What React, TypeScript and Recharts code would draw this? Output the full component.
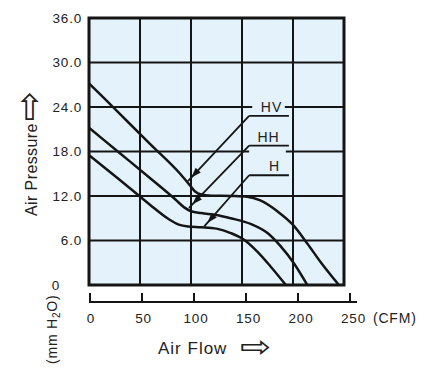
import { LineChart, Line, XAxis, YAxis, CartesianGrid, ReferenceLine, ReferenceArea, ReferenceDot } from 'recharts'

// axis ticks
const flowTicks = [0, 50, 100, 150, 200, 250]
const pressureTicks = [0, 6, 12, 18, 24, 30, 36]

// fan curves (CFM -> mm H2O)
const hvFlow = [0, 30, 60, 90, 98, 104, 110, 120, 140, 155, 168, 185, 200, 214, 227, 245]
const hvPressure = [27.2, 23.1, 19.0, 14.9, 13.6, 12.6, 12.2, 12.05, 12.0, 11.9, 11.4, 9.9, 8.1, 5.6, 3.1, 0]

const hhFlow = [0, 30, 60, 85, 93, 100, 110, 125, 139, 159, 175, 188, 201, 214]
const hhPressure = [21.2, 17.8, 14.4, 11.5, 10.5, 9.95, 9.7, 9.45, 9.0, 8.2, 7.0, 5.2, 2.9, 0]

const hFlow = [0, 30, 60, 78, 88, 97, 110, 125, 139, 152, 165, 178, 193]
const hPressure = [17.5, 14.2, 10.8, 8.9, 8.15, 7.9, 7.8, 7.6, 7.0, 6.1, 4.5, 2.5, 0]

// leader annotations (data units)
const seriesNames = ['HV', 'HH', 'H']
const leaderLevel = [22.8, 18.8, 14.8]
const tipFlow = [97, 98, 113]
const tipPressure = [14.0, 10.4, 7.9]
const nameFlow = [179, 176, 182]
const namePressure = [24.0, 19.9, 16.0]

const BG = '#e4f3fb'
const INK = '#151515'
const FONT = '"Liberation Sans", Arial, sans-serif'

const toPoints = (xs: number[], ys: number[]) => xs.map((flow, i) => ({ flow, pressure: ys[i] }))

function YTick({ x, y, payload }: any) {
  const v = payload.value
  return (
    <text
      x={v === 0 ? x - 22 : x}
      y={y}
      dy={4.5}
      textAnchor="end"
      fontFamily={FONT}
      fontSize={13.5}
      letterSpacing={0.8}
      fill="#222"
    >
      {v === 0 ? '0' : v.toFixed(1)}
    </text>
  )
}

function RulerTick({ x, y, payload }: any) {
  const v = payload.value
  const tx = x + 1 + v * 0.02
  return (
    <g>
      <line x1={tx} x2={tx} y1={y - 9} y2={y} stroke={INK} strokeWidth={2} />
      {v === 250 && <line x1={x - 1} x2={x + 13} y1={y} y2={y} stroke={INK} strokeWidth={2} />}
      <text x={x + 2 + v * 0.03} y={y + 21} textAnchor="middle" fontFamily={FONT} fontSize={13.5} letterSpacing={0.8} fill="#222">
        {v}
      </text>
      {v === 250 && (
        <text x={x + 29} y={y + 21} fontFamily={FONT} fontSize={14} letterSpacing={0.8} fill="#222">
          (CFM)
        </text>
      )}
    </g>
  )
}

function Leader({ x1, y1, x2, y2, arrow }: any) {
  let head = null
  if (arrow) {
    const len = Math.hypot(x2 - x1, y2 - y1)
    const ux = (x2 - x1) / len
    const uy = (y2 - y1) / len
    const px = x2 - ux * 5
    const py = y2 - uy * 5
    const bx = x2 - ux * 15
    const by = y2 - uy * 15
    head = (
      <polygon
        points={`${px},${py} ${bx - uy * 3.5},${by + ux * 3.5} ${bx + uy * 3.5},${by - ux * 3.5}`}
        fill={INK}
      />
    )
  }
  return (
    <g>
      <line x1={x1} y1={y1} x2={x2} y2={y2} stroke={INK} strokeWidth={1.8} />
      {head}
    </g>
  )
}

const YTitle = () => (
  <g fontFamily={FONT} fill="#222">
    <text transform="translate(37,216) rotate(-90)" fontSize={16} letterSpacing={0.4}>
      Air Pressure
      <tspan fontFamily="DejaVu Sans" fontSize={36} dx={2} dy={4}>⇨</tspan>
    </text>
    <text transform="translate(57,364) rotate(-90)" fontSize={14} letterSpacing={0.8}>
      (mm H<tspan fontSize={10} dy={3}>2</tspan>
      <tspan dy={-3}>O)</tspan>
    </text>
  </g>
)

const XTitle = () => (
  <g fill="#222">
    <text x={158} y={354} fontFamily={FONT} fontSize={17} letterSpacing={1}>
      Air Flow
    </text>
    <text transform="translate(240,357) scale(1.25,1)" fontFamily="DejaVu Sans" fontSize={30}>
      ⇨
    </text>
  </g>
)

export default function App() {
  return (
    <div style={{ position: 'absolute', left: 0, top: 0, background: '#fff' }}>
      <LineChart width={421} height={377} margin={{ top: 18, right: 77, bottom: 0, left: 0 }}>
        <CartesianGrid xAxisId="ruler" fill={BG} fillOpacity={1} stroke={INK} strokeWidth={2} />
        {/* empty band between the plot frame and the flow ruler */}
        <XAxis
          xAxisId={0}
          dataKey="flow"
          type="number"
          domain={[0, 250]}
          ticks={flowTicks}
          height={17}
          axisLine={false}
          tickLine={false}
          tick={false}
        />
        <XAxis
          xAxisId="ruler"
          dataKey="flow"
          type="number"
          domain={[0, 250]}
          ticks={flowTicks}
          interval={0}
          height={75}
          axisLine={{ stroke: INK, strokeWidth: 2 }}
          tickLine={false}
          tickSize={0}
          tickMargin={0}
          tick={<RulerTick />}
          label={{ content: XTitle }}
        />
        <YAxis
          type="number"
          domain={[0, 36]}
          ticks={pressureTicks}
          interval={0}
          width={89}
          axisLine={false}
          tickLine={false}
          tickSize={0}
          tickMargin={7}
          tick={<YTick />}
          label={{ content: YTitle }}
        />

        {/* light patches behind the series names */}
        <ReferenceArea xAxisId="ruler" x1={160} x2={192} y1={23.3} y2={24.7} fill={BG} fillOpacity={1} stroke="none" />
        <ReferenceArea xAxisId="ruler" x1={157} x2={193} y1={17.7} y2={18.35} fill={BG} fillOpacity={1} stroke="none" />
        <ReferenceArea xAxisId="ruler" x1={0} x2={250} y1={0} y2={36} fill="none" stroke={INK} strokeWidth={3} />

        <Line xAxisId="ruler" data={toPoints(hvFlow, hvPressure)} dataKey="pressure" type="monotone" stroke={INK} strokeWidth={2.5} dot={false} isAnimationActive={false} />
        <Line xAxisId="ruler" data={toPoints(hhFlow, hhPressure)} dataKey="pressure" type="monotone" stroke={INK} strokeWidth={2.5} dot={false} isAnimationActive={false} />
        <Line xAxisId="ruler" data={toPoints(hFlow, hPressure)} dataKey="pressure" type="monotone" stroke={INK} strokeWidth={2.5} dot={false} isAnimationActive={false} />

        {seriesNames.map((name, i) => (
          <ReferenceLine
            key={name + '-h'}
            xAxisId="ruler"
            segment={[{ x: 157, y: leaderLevel[i] }, { x: 196, y: leaderLevel[i] }]}
            shape={(p: any) => <Leader {...p} />}
          />
        ))}
        {seriesNames.map((name, i) => (
          <ReferenceLine
            key={name + '-d'}
            xAxisId="ruler"
            segment={[{ x: 157, y: leaderLevel[i] }, { x: tipFlow[i], y: tipPressure[i] }]}
            shape={(p: any) => <Leader {...p} arrow />}
          />
        ))}
        {seriesNames.map((name, i) => (
          <ReferenceDot
            key={name}
            xAxisId="ruler"
            x={nameFlow[i]}
            y={namePressure[i]}
            r={0}
            stroke="none"
            fill="none"
            label={{ value: name, position: 'center', fontFamily: FONT, fontSize: 14, letterSpacing: 1, fill: '#222' }}
          />
        ))}
      </LineChart>
    </div>
  )
}
